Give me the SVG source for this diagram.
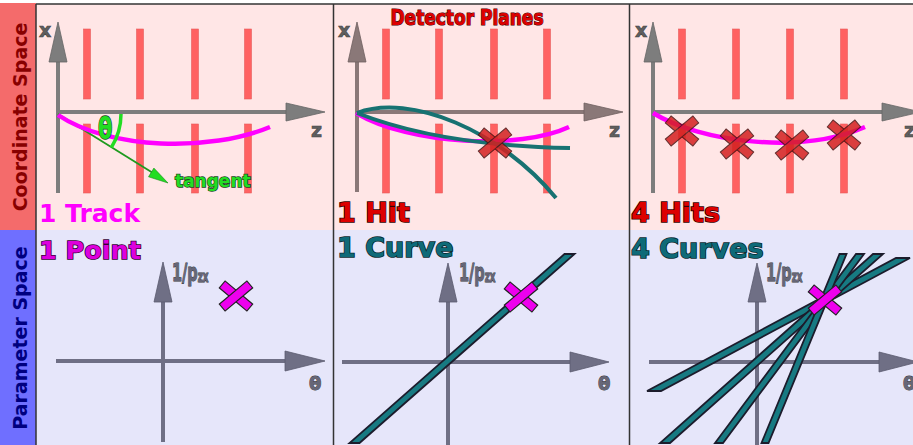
<svg xmlns="http://www.w3.org/2000/svg" xmlns:xlink="http://www.w3.org/1999/xlink" width="913" height="445" viewBox="0 0 913 445">
<style>
.lbl{font-family:'DejaVu Sans','Liberation Sans',sans-serif;font-weight:bold}
.bar{fill:#ff6262;stroke:#e65c5c;stroke-width:0.6}
.axA{stroke:#7d7d7d;stroke-width:4;fill:none}
.ahA{fill:#7d7d7d;stroke:#666;stroke-width:0.8}
.axB{stroke:#8a7878;stroke-width:4;fill:none}
.ahB{fill:#8a7878;stroke:#6e5f5f;stroke-width:0.8}
.axP{stroke:#6f6f85;stroke-width:4;fill:none}
.ahP{fill:#6f6f85;stroke:#5a5a6e;stroke-width:0.8}
.axl{fill:#5f5f5f;font-size:19px;stroke:#444;stroke-width:0.6}
.pl{fill:#666677;font-size:25px;stroke:#333;stroke-width:1;paint-order:stroke}
.th{fill:#666677;font-size:18px;stroke:#333;stroke-width:0.8;paint-order:stroke}
.trk{fill:none;stroke:#ff00ff;stroke-width:4.5}
.teal{fill:none;stroke:#177272;stroke-width:4}
.band{fill:#177a82;stroke:#1c1c2c;stroke-width:1.8}
.xr{fill:#d42020;stroke:#4a1010;stroke-width:1;opacity:0.85}
.xm{fill:#ee00ee;stroke:#222;stroke-width:1.2}
.big{font-size:27px;stroke-width:1.6;paint-order:stroke}
</style>
<defs>
<g id="cross"><rect x="-18" y="-4.5" width="36" height="9" transform="rotate(40)"/><rect x="-18" y="-4.5" width="36" height="9" transform="rotate(-40)"/></g>
</defs>

<g id="frame">
<rect x="0" y="3" width="36" height="227" fill="#f46b6b"/>
<rect x="0" y="230" width="36" height="215" fill="#6f6fff"/>
<rect x="36" y="4" width="877" height="226" fill="#ffe6e6"/>
<rect x="36" y="230" width="877" height="215" fill="#e6e6fa"/>
<line x1="36" y1="4" x2="913" y2="4" stroke="#333" stroke-width="1.5"/>
<line x1="36" y1="4" x2="36" y2="445" stroke="#333" stroke-width="1.5"/>
<line x1="333.5" y1="4" x2="333.5" y2="445" stroke="#333" stroke-width="1.5"/>
<line x1="629.5" y1="4" x2="629.5" y2="445" stroke="#333" stroke-width="1.5"/>
<text class="lbl" font-size="19" fill="#880000" text-anchor="middle" transform="translate(26.5,117) rotate(-90)">Coordinate Space</text>
<text class="lbl" font-size="19" fill="#000080" text-anchor="middle" transform="translate(26.5,338) rotate(-90)">Parameter Space</text>
</g>

<g id="panel-track">
<rect class="bar" x="83.5" y="29" width="7" height="70"/><rect class="bar" x="83.5" y="124" width="7" height="69"/>
<rect class="bar" x="136.5" y="29" width="7" height="70"/><rect class="bar" x="136.5" y="124" width="7" height="69"/>
<rect class="bar" x="191.5" y="29" width="7" height="70"/><rect class="bar" x="191.5" y="124" width="7" height="69"/>
<rect class="bar" x="244.5" y="29" width="7" height="70"/><rect class="bar" x="244.5" y="124" width="7" height="69"/>
<line class="axA" x1="58" y1="193" x2="58" y2="60"/><polygon class="ahA" points="58,22 49,62 67,62"/>
<line class="axA" x1="58" y1="112" x2="288" y2="112"/><polygon class="ahA" points="325,112 286,103 286,121"/>
<text class="lbl axl" x="39" y="37">x</text>
<text class="lbl axl" x="311" y="137">z</text>
<line x1="58" y1="114" x2="153" y2="173" stroke="#1e9a1e" stroke-width="1.8"/>
<polygon points="168,183 148.5,176.8 153.9,168.1" fill="#22dd22" stroke="#1a8a1a" stroke-width="0.6"/>
<path class="trk" d="M58,115 C110,150 210,152 270,127"/>
<path d="M121,114 A63,63 0 0 1 111.4,147.4" fill="none" stroke="#22dd22" stroke-width="3.5"/>
<text class="lbl" font-size="30" fill="#22dd22" stroke="#1a3a1a" stroke-width="1.4" paint-order="stroke" transform="translate(98,138.5) scale(0.7,1)">θ</text>
<text class="lbl" x="175" y="187" font-size="17" fill="#22dd22" stroke="#224422" stroke-width="1.4" paint-order="stroke">tangent</text>
<text class="lbl" x="39" y="222" font-size="25" fill="#ff00ff">1 Track</text>
</g>

<g id="panel-hit">
<text class="lbl" font-size="20.5" fill="#dd0000" stroke="#400000" stroke-width="1.2" paint-order="stroke" text-anchor="middle" transform="translate(467,25) scale(0.83,1)">Detector Planes</text>
<rect class="bar" x="382.5" y="29" width="7" height="70"/><rect class="bar" x="382.5" y="124" width="7" height="69"/>
<rect class="bar" x="435.5" y="29" width="7" height="70"/><rect class="bar" x="435.5" y="124" width="7" height="69"/>
<rect class="bar" x="490.5" y="29" width="7" height="70"/><rect class="bar" x="490.5" y="124" width="7" height="69"/>
<rect class="bar" x="543.5" y="29" width="7" height="70"/><rect class="bar" x="543.5" y="124" width="7" height="69"/>
<line class="axB" x1="357" y1="192" x2="357" y2="60"/><polygon class="ahB" points="357,22 348,62 366,62"/>
<line class="axB" x1="357" y1="112" x2="586" y2="112"/><polygon class="ahB" points="623,112 584,103 584,121"/>
<text class="lbl axl" x="338" y="37">x</text>
<text class="lbl axl" x="609" y="137">z</text>
<path class="trk" d="M356,113 C410,145 520,150 569,127"/>
<path class="teal" d="M357,113 C410,93 500,130 556,198"/>
<path class="teal" d="M357,113 C395,128 460,146 570,148"/>
<use xlink:href="#cross" x="495" y="143" class="xr"/>
<text class="lbl big" x="337" y="222" fill="#dd0000" stroke="#330000">1 Hit</text>
</g>

<g id="panel-hits">
<rect class="bar" x="678.5" y="29" width="7" height="70"/><rect class="bar" x="678.5" y="124" width="7" height="69"/>
<rect class="bar" x="732.5" y="29" width="7" height="70"/><rect class="bar" x="732.5" y="124" width="7" height="69"/>
<rect class="bar" x="786.5" y="29" width="7" height="70"/><rect class="bar" x="786.5" y="124" width="7" height="69"/>
<rect class="bar" x="840.5" y="29" width="7" height="70"/><rect class="bar" x="840.5" y="124" width="7" height="69"/>
<line class="axA" x1="653" y1="193" x2="653" y2="60"/><polygon class="ahA" points="653,22 644,62 662,62"/>
<line class="axA" x1="653" y1="112" x2="884" y2="112"/><polygon class="ahA" points="921,112 882,103 882,121"/>
<text class="lbl axl" x="635" y="37">x</text>
<text class="lbl axl" x="904" y="137">z</text>
<path class="trk" d="M653,113 C700,142 800,155 865,127"/>
<use xlink:href="#cross" x="682" y="131" class="xr"/>
<use xlink:href="#cross" x="737" y="144" class="xr"/>
<use xlink:href="#cross" x="792" y="145" class="xr"/>
<use xlink:href="#cross" x="844" y="135" class="xr"/>
<text class="lbl big" x="631" y="222" fill="#dd0000" stroke="#330000">4 Hits</text>
</g>

<g id="panel-point">
<line class="axP" x1="163" y1="442" x2="163" y2="300"/><polygon class="ahP" points="163,262 154,302 172,302"/>
<line class="axP" x1="56" y1="361" x2="287" y2="361"/><polygon class="ahP" points="325,361 285,351 285,371"/>
<text class="lbl pl" transform="translate(172,281) scale(0.58,1)">1/p<tspan font-size="15" dy="1">zx</tspan></text>
<text class="lbl th" x="309" y="390">θ</text>
<use xlink:href="#cross" x="236" y="296" class="xm"/>
<text class="lbl" x="39" y="259" font-size="25.5" fill="#dd00dd" stroke="#330033" stroke-width="1.6" paint-order="stroke">1 Point</text>
</g>

<g id="panel-curve">
<line class="axP" x1="448" y1="445" x2="448" y2="300"/><polygon class="ahP" points="448,263 439,302 457,302"/>
<line class="axP" x1="342" y1="362" x2="572" y2="362"/><polygon class="ahP" points="609,362 570,352 570,372"/>
<text class="lbl pl" transform="translate(459,281) scale(0.58,1)">1/p<tspan font-size="15" dy="1">zx</tspan></text>
<text class="lbl th" x="598" y="390">θ</text>
<polygon class="band" points="349.5,443 359.5,443 574.5,254 564.5,254"/>
<use xlink:href="#cross" x="521" y="297" class="xm"/>
<text class="lbl big" x="337" y="257" fill="#0e6a78" stroke="#0a2a30">1 Curve</text>
</g>

<g id="panel-curves">
<line class="axP" x1="757" y1="445" x2="757" y2="300"/><polygon class="ahP" points="757,263 748,302 766,302"/>
<line class="axP" x1="649" y1="362" x2="881" y2="362"/><polygon class="ahP" points="918,362 879,352 879,372"/>
<text class="lbl pl" transform="translate(766,281) scale(0.58,1)">1/p<tspan font-size="15" dy="1">zx</tspan></text>
<text class="lbl th" x="903" y="390">θ</text>
<polygon class="band" points="647,391 661,391 910,258 896,258"/>
<polygon class="band" points="660,443 670,443 883,254 873,254"/>
<polygon class="band" points="715,443 723,443 864,254 856,254"/>
<polygon class="band" points="761.5,443 768.5,443 846.5,254 839.5,254"/>
<use xlink:href="#cross" x="825" y="300" class="xm"/>
<text class="lbl big" x="631" y="258" fill="#0e6a78" stroke="#0a2a30">4 Curves</text>
</g>
</svg>
